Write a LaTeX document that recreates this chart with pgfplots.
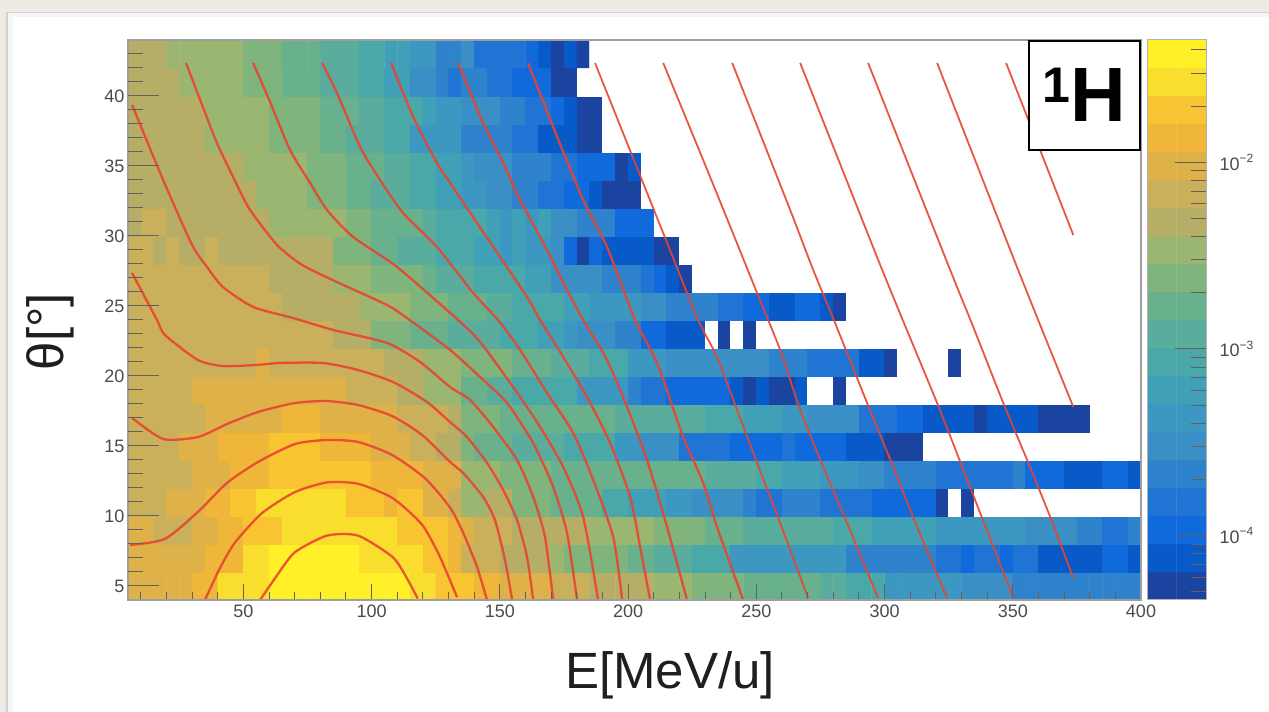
\documentclass[border=0pt]{standalone}
\usepackage{pgfplots}
\pgfplotsset{compat=1.18}
\usepackage{fontspec}
\setmainfont{Liberation Sans}
\definecolor{curve}{RGB}{232,68,48}
\definecolor{ticklab}{RGB}{75,75,75}
\definecolor{pagebg}{RGB}{238,235,228}
\definecolor{panel}{RGB}{242,246,244}
% Histogram cells: one call per row (theta bin centre), list of level/run-length
% for the E bins 5..400 MeV/u (5 MeV wide). Level 0 = empty, 1..20 = colour band.
\makeatletter
\gdef\allc{}
\newcount\cx
\newcommand\Row[2]{%
  \global\cx=0
  \foreach \v/\n in {#2}{%
    \foreach \i in {1,...,\n}{%
      \ifnum\cx<79
        \xdef\allc{\allc (\the\numexpr5*\cx+7\relax.5,#1) [\v] }%
        \global\advance\cx by 1
      \fi}}%
  \loop\ifnum\cx<79
    \xdef\allc{\allc (\the\numexpr5*\cx+7\relax.5,#1) [0] }%
    \global\advance\cx by 1
  \repeat}
\makeatother
\Row{5}{16/5,17/2,19/4,20/11,19/2,18/2,18/1,17/2,16/4,15/3,14/5,13/3,12/4,11/6,10/2,9/3,7/6,6/4,5/10}
\Row{7}{16/6,17/3,19/2,20/7,19/5,18/2,17/1,15/3,14/4,13/1,12/5,11/2,10/3,9/3,7/9,5/7,4/2,3/1,4/2,3/1,4/2,2/5,3/2,2/1}
\Row{9}{16/2,15/3,16/2,17/2,18/3,19/9,18/2,18/2,17/1,16/1,15/3,14/6,13/5,12/4,11/3,10/7,9/3,8/5,7/7,6/4,5/2,4/2,5/1}
\Row{11}{15/3,16/3,17/2,18/2,19/7,18/3,17/1,18/2,16/2,15/1,13/2,14/2,12/3,11/4,9/2,8/3,7/2,6/4,5/1,4/2,5/3,4/4,3/5,1/1,0/1,1/1}
\Row{13}{15/5,16/3,17/3,18/8,17/4,16/3,13/3,12/4,11/12,10/4,9/2,8/3,7/3,6/2,5/4,4/6,5/1,3/3,2/3,3/2,2/1}
\Row{15}{15/4,16/3,17/4,18/4,17/4,16/3,15/2,14/2,12/1,11/3,10/4,9/4,7/2,6/3,4/4,3/4,4/1,3/4,2/3,1/3}
\Row{17}{15/6,16/6,17/3,16/6,15/4,14/1,12/3,11/9,10/7,9/3,8/3,7/2,6/4,4/3,3/2,2/4,1/1,2/4,1/4}
\Row{19}{15/5,16/12,15/4,14/2,13/3,11/2,10/2,9/5,7/4,5/1,4/2,3/5,2/1,1/1,2/1,1/2,2/1,0/2,1/1}
\Row{21}{15/10,16/1,15/9,14/3,13/3,12/4,11/3,10/3,9/3,7/3,6/8,5/3,4/4,2/2,1/1,0/4,1/1}
\Row{23}{15/16,14/3,12/3,11/3,10/1,10/3,9/3,8/2,7/1,6/3,5/2,3/2,2/3,0/1,1/1,0/1,1/1}
\Row{25}{15/12,14/6,13/4,12/3,11/1,11/2,10/2,9/4,8/2,7/4,6/2,5/4,4/2,3/2,2/2,3/2,2/1,1/1}
\Row{27}{15/11,14/5,13/3,12/4,11/1,10/2,10/1,9/4,8/2,6/4,5/3,4/1,3/1,2/1,1/1}
\Row{29}{15/2,14/1,15/1,14/2,15/1,14/6,14/3,12/3,11/2,10/3,9/2,9/1,8/2,7/1,8/1,7/2,6/1,3/1,1/1,3/1,2/4,1/2}
\Row{31}{14/1,15/2,14/8,13/6,12/2,11/4,10/1,9/2,9/2,8/1,7/1,8/1,7/1,8/1,6/2,5/3,3/3}
\Row{33}{14/10,13/4,12/3,11/2,10/3,9/2,8/2,7/2,6/2,5/2,4/2,3/2,2/1,1/3}
\Row{35}{14/9,13/5,12/3,11/3,10/2,9/2,8/2,7/1,6/3,5/3,4/2,3/3,1/1,2/1}
\Row{37}{14/6,13/5,12/4,11/2,10/3,9/2,7/4,5/4,4/2,2/3,1/2}
\Row{39}{14/6,13/5,12/4,11/3,10/2,9/3,8/1,7/2,6/3,5/2,4/2,3/1,2/1,1/2}
\Row{41}{14/4,13/5,12/3,11/3,10/3,9/2,8/2,6/2,5/1,4/1,5/2,4/2,3/3,1/2}
\Row{43}{14/3,13/6,12/3,11/3,10/3,9/2,8/2,7/2,5/2,6/1,4/4,3/1,2/1,1/1,2/1,1/1}
\tikzset{cv/.style={draw=curve, draw opacity=0.9, line width=2.3pt, mark=none, line join=round, smooth, tension=0.4},
  cw/.style={cv, line width=1.8pt}}
\pgfplotsset{
  colormap={root}{
    rgb255=(255,255,255)
    rgb255=(26,68,160) rgb255=(8,90,200) rgb255=(16,106,220) rgb255=(31,116,212)
    rgb255=(47,130,204) rgb255=(58,144,196) rgb255=(60,152,192) rgb255=(63,160,184)
    rgb255=(74,168,168) rgb255=(90,173,156) rgb255=(105,176,140) rgb255=(128,180,125)
    rgb255=(155,182,112) rgb255=(182,174,102) rgb255=(202,176,90) rgb255=(222,178,72)
    rgb255=(240,182,58) rgb255=(248,196,50) rgb255=(250,222,45) rgb255=(255,240,40)
  },
  base/.style={
    scale only axis, width=1013pt, height=560pt,
    at={(128pt,112pt)}, anchor=south west,
    xmin=5, xmax=400, ymin=4, ymax=44,
    tick align=inside, axis on top,
    xtick pos=bottom, ytick pos=left,
    tick style={black!62, line width=1pt},
    minor tick style={black!62, line width=1pt},
    axis line style={black!38, line width=1.6pt},
    /pgf/number format/assume math mode=true,
    tick label style={font=\fontsize{18}{18}\selectfont, text=ticklab},
    point meta min=0, point meta max=20,
  }
}
\begin{document}
\begin{tikzpicture}
\fill[pagebg] (0pt,0pt) rectangle (1269pt,712pt);
\fill[black!18] (6pt,0pt) rectangle (1269pt,700pt);
\fill[panel] (8pt,0pt) rectangle (1269pt,699pt);
\fill[white] (13pt,0pt) rectangle (1269pt,695pt);
\begin{axis}[base,
  major tick length=16pt, minor tick length=8pt,
  xtick={50,100,...,400}, minor xtick={10,20,...,390}, ytick=\empty,
  xlabel={E[MeV/u]}, ylabel={θ[°]},
  xlabel style={font=\fontsize{51}{51}\selectfont, text=black!88, at={(axis description cs:0.535,-0.134)}, anchor=center},
  ylabel style={font=\fontsize{51}{51}\selectfont, text=black!88, at={(axis description cs:-0.077,0.479)}, anchor=center},
  xticklabel style={yshift=-1pt},
]
\edef\doit{\noexpand\addplot[matrix plot*, mesh/cols=79, mesh/rows=20, point meta=explicit, forget plot] coordinates {\allc};}
\doit
\addplot[cv] coordinates {(56.5,4)(62.5,5.6)(70,7.4)(82.6,8.6)(94.7,8.6)(108,7.1)(113,5.8)(118,4.1)};
\addplot[cv] coordinates {(35,4)(40.9,6.3)(46.7,8.1)(57.2,10.2)(70,11.7)(82.6,12.4)(94.7,12.3)(108,11.3)(119.6,9.4)(126.6,7.1)(133.3,4.2)};
\addplot[cv] coordinates {(5.8,7.93)(19.4,8.36)(32.3,10.3)(43.6,12.36)(55.7,13.86)(70.1,15.14)(82.6,15.43)(94.7,15.29)(108,14.36)(120.8,12.7)(130.6,10.6)(135.7,8.8)(141.1,6.36)(145,4)};
\addplot[cv] coordinates {(6.6,17)(18.7,15.5)(32.3,15.64)(43.6,16.57)(55.7,17.43)(70.1,18.07)(82.6,18.21)(94.7,17.93)(108,17.14)(119.7,15.79)(130.6,13.86)(135.7,13.07)(143.5,11.36)(148.1,9.7)(152,6.86)(154.8,4)};
\addplot[cv] coordinates {(6.6,27.36)(16.3,24)(19.4,22.93)(32.3,21.14)(42,20.71)(55.3,20.79)(64.3,20.93)(81,20.93)(94.7,20.43)(108.4,19.57)(121.6,18.14)(130.6,16.71)(137.2,15.64)(145,13.79)(151.3,11.86)(156.7,9.71)(160.6,7.07)(163,4)};
\addplot[cv] coordinates {(6.6,39.36)(18.7,34)(30,29.36)(35.8,27.79)(42,26.36)(53.8,24.93)(69.4,24.14)(85,23.29)(106,22.36)(118.9,21)(130.6,19.21)(138.4,18.29)(147.4,16.36)(156.7,14)(163,11.36)(167.6,8.5)(170.8,4)};
\addplot[cv] coordinates {(27.6,42.36)(33.9,39.36)(39.7,36.64)(47.5,33.64)(52.6,31.86)(63.1,29.36)(72.9,27.93)(86.5,26.71)(106,25.07)(113.8,24.14)(130.6,21.86)(142.3,19.93)(152.8,18.07)(163,15.21)(170.8,12.07)(176.2,8.79)(180.1,4)};
\addplot[cv] coordinates {(53.8,42.36)(60.4,39.57)(68.2,36.14)(76,33.79)(82.6,31.86)(92.8,29.93)(109.9,27.79)(133.7,24)(142.3,22.43)(155.2,19.21)(165.7,16.36)(174.7,13.5)(182.5,9.93)(188.3,4)};
\addplot[cv] coordinates {(80.7,42.36)(86.5,40.21)(95.5,36.36)(103.3,34)(112.3,31.64)(125.5,29.21)(139.6,25.93)(149.3,24)(157.9,21.86)(168.4,18.79)(178.6,15.93)(186.4,12.57)(194.2,8.5)(197.7,4)};
\addplot[cv] coordinates {(107.6,42.36)(116.2,38.5)(125.5,35.21)(130.6,33.79)(141.1,30.93)(150.1,28.5)(160.6,25.64)(165.7,24)(174.7,21.36)(184,18.5)(193,15.21)(200.8,11.36)(204.7,7.79)(208.6,4)};
\addplot[cv] coordinates {(133.7,42.36)(143.5,38.07)(151.3,35.21)(157.9,32.57)(168.4,29)(176.2,26.14)(182.5,24)(191.8,21.14)(199.6,17.79)(207.4,14)(215.2,9.21)(223,4)};
\addplot[cv] coordinates {(161,42.36)(170.8,37.79)(182.5,32.57)(191.8,29.21)(202.7,24)(211.3,20.93)(221.5,15.64)(229.3,12.36)(234.7,9.21)(244.9,4)};
\addplot[cw] coordinates {(187.1,42.36)(199.6,36.64)(213.7,30.21)(227.3,24)(234.7,21.36)(242.5,17.57)(250.3,13.79)(259.3,9.5)(270.2,4.14)};
\addplot[cw] coordinates {(213.7,42.36)(232,34.21)(250.3,25.93)(259.3,21.86)(267.1,17.57)(276.1,13.5)(285.4,9.5)(297.5,4.14)};
\addplot[cw] coordinates {(240.6,42.36)(263.2,31.86)(272.2,27.57)(280.7,23.79)(293.2,18.07)(303.4,13.5)(312.7,9.21)(324.4,4.14)};
\addplot[cw] coordinates {(267.1,42.36)(299.1,27.57)(320.5,18.07)(330.3,13.5)(337.3,10.21)(350.2,4.14)};
\addplot[cw] coordinates {(293.6,42.36)(325.6,27.57)(334.6,23.5)(346.3,18.07)(355.6,14)(364.6,9.93)(373.6,5.57)};
\addplot[cw] coordinates {(320.5,42.36)(352.1,27.57)(373.6,17.79)};
\addplot[cw] coordinates {(347.4,42.36)(373.6,30.07)};
\end{axis}
\begin{axis}[base,
  major tick length=31pt, minor tick length=15pt,
  xtick=\empty, ytick={5,10,...,40}, minor ytick={5,6,...,43},
  axis line style={draw=none},
]
\addplot[draw=none, forget plot] coordinates {(5,4)(400,44)};
\end{axis}
% colour scale: bands of 0.15 in log10 of the value
\begin{axis}[
  scale only axis, width=59pt, height=560pt,
  at={(1147pt,112pt)}, anchor=south west,
  xmin=-0.5, xmax=1.5, ymin=-4.345, ymax=-1.345,
  xtick=\empty, ytick={-4,-3,-2},
  yticklabels={10\raisebox{0.42em}{\fontsize{12}{12}\selectfont −4},10\raisebox{0.42em}{\fontsize{12}{12}\selectfont −3},10\raisebox{0.42em}{\fontsize{12}{12}\selectfont −2}},
  minor ytick={-4.301,-4.222,-4.155,-4.097,-4.046,-3.699,-3.523,-3.398,-3.301,-3.222,-3.155,-3.097,-3.046,-2.699,-2.523,-2.398,-2.301,-2.222,-2.155,-2.097,-2.046,-1.699,-1.523,-1.398},
  ytick pos=right, yticklabel pos=right, tick align=inside, axis on top,
  major tick length=31pt, minor tick length=15pt,
  tick style={black!62, line width=1pt},
  minor tick style={black!62, line width=1pt},
  axis line style={black!30, line width=1pt},
  tick label style={font=\fontsize{18}{18}\selectfont, text=ticklab},
  yticklabel style={xshift=10pt},
  point meta min=0, point meta max=20,
]
\addplot[matrix plot*, mesh/cols=2, mesh/rows=20, point meta=explicit] coordinates {
(0,-4.27)[1](1,-4.27)[1] (0,-4.12)[2](1,-4.12)[2] (0,-3.97)[3](1,-3.97)[3] (0,-3.82)[4](1,-3.82)[4]
(0,-3.67)[5](1,-3.67)[5] (0,-3.52)[6](1,-3.52)[6] (0,-3.37)[7](1,-3.37)[7] (0,-3.22)[8](1,-3.22)[8]
(0,-3.07)[9](1,-3.07)[9] (0,-2.92)[10](1,-2.92)[10] (0,-2.77)[11](1,-2.77)[11] (0,-2.62)[12](1,-2.62)[12]
(0,-2.47)[13](1,-2.47)[13] (0,-2.32)[14](1,-2.32)[14] (0,-2.17)[15](1,-2.17)[15] (0,-2.02)[16](1,-2.02)[16]
(0,-1.87)[17](1,-1.87)[17] (0,-1.72)[18](1,-1.72)[18] (0,-1.57)[19](1,-1.57)[19] (0,-1.42)[20](1,-1.42)[20]
};
\end{axis}
\draw[black, line width=2pt, fill=white] (1029pt,562pt) rectangle (1140pt,671pt);
\node[anchor=base, inner sep=0pt] at (1084pt,590pt) {\bfseries{\fontsize{50}{50}\selectfont\raisebox{19pt}{1}}{\fontsize{77}{77}\selectfont H}};
\end{tikzpicture}
\end{document}
